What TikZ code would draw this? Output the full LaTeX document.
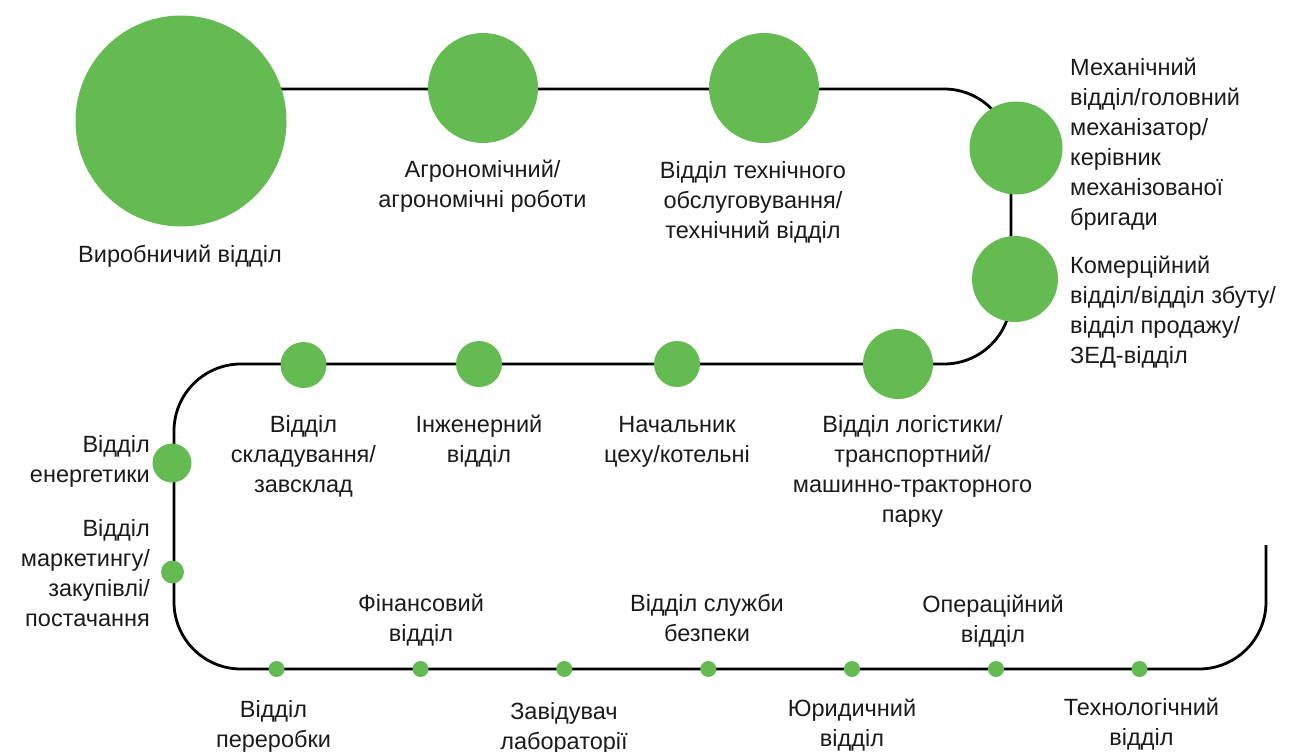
\documentclass[tikz,border=0pt]{standalone}
\usepackage{fontspec}
\setmainfont{Liberation Sans}
\definecolor{dotgreen}{RGB}{99,187,81}
\definecolor{txt}{RGB}{27,27,27}
\pgfdeclarelayer{bg}
\pgfsetlayers{bg,main}
\begin{document}
\begin{tikzpicture}[x=1pt,y=-1pt,
  dot/.style={circle, fill=dotgreen, draw=none, inner sep=0pt, minimum size=#1},
  track/.style={line width=2.8pt, draw=black, rounded corners=67pt},
  lbl/.style={font=\fontsize{23.5}{30}\selectfont, text=txt, inner sep=0pt, align=center, anchor=base},
  lbll/.style={lbl, align=left, anchor=base west},
  lblr/.style={lbl, align=right, anchor=base east}]
\useasboundingbox (0,0) rectangle (1290,752);
% stations
\node[dot=211pt] (prod) at (181,121) {};
\node[dot=110pt] (agro) at (483,88) {};
\node[dot=110pt] (tech) at (764,88) {};
\node[dot=93pt] (mech) at (1016,148) {};
\node[dot=86pt] (comm) at (1015,279) {};
\node[dot=70pt] (logi) at (898,364) {};
\node[dot=46pt] (boil) at (677,364) {};
\node[dot=46pt] (eng) at (479,364) {};
\node[dot=46pt] (stor) at (303.5,365) {};
\node[dot=39pt] (ener) at (172,463) {};
\node[dot=23pt] (mark) at (172.5,572) {};
\node[dot=16pt] (proc) at (276.5,669) {};
\node[dot=16pt] (fin) at (420.5,669) {};
\node[dot=16pt] (lab) at (564.3,669) {};
\node[dot=16pt] (sec) at (708.3,669) {};
\node[dot=16pt] (law) at (852,669) {};
\node[dot=16pt] (ops) at (996,669) {};
\node[dot=16pt] (techn) at (1139.5,669) {};
% track corners
\coordinate (c1) at (1011,89);
\coordinate (c2) at (1011,364);
\coordinate (c3) at (174,364);
\coordinate (c4) at (174,669);
\coordinate (c5) at (1266,669);
\coordinate (c6) at (1266,545);
\begin{pgfonlayer}{bg}
\draw[track] (prod.center |- c1) -- (c1) -- (c2) -- (c3) -- (c4) -- (c5) -- (c6);
\end{pgfonlayer}
% labels (anchor = baseline of the last line)
\node[lbl] (lprod) at (180,262) {Виробничий відділ};
\node[lbl] (lagro) at (482.5,207) {Агрономічний/\\агрономічні роботи};
\node[lbl] (ltech) at (753,238) {Відділ технічного\\обслуговування/\\технічний відділ};
\node[lbll] (lmech) at (1070,225) {Механічний\\відділ/головний\\механізатор/\\керівник\\механізованої\\бригади};
\node[lbll] (lcomm) at (1070,363) {Комерційний\\відділ/відділ збуту/\\відділ продажу/\\ЗЕД-відділ};
\node[lbl] (lstor) at (303.5,492) {Відділ\\складування/\\завсклад};
\node[lbl] (leng) at (479,462) {Інженерний\\відділ};
\node[lbl] (lboil) at (677,462) {Начальник\\цеху/котельні};
\node[lbl] (llogi) at (912.5,522) {Відділ логістики/\\транспортний/\\машинно-тракторного\\парку};
\node[lblr] (lener) at (150,482) {Відділ\\енергетики};
\node[lblr] (lmark) at (150,626) {Відділ\\маркетингу/\\закупівлі/\\постачання};
\node[lbl] (lfin) at (421,641) {Фінансовий\\відділ};
\node[lbl] (lsec) at (707,641) {Відділ служби\\безпеки};
\node[lbl] (lops) at (993,642) {Операційний\\відділ};
\node[lbl] (lproc) at (273.5,747) {Відділ\\переробки};
\node[lbl] (llab) at (564,749) {Завідувач\\лабораторії};
\node[lbl] (llaw) at (852,746) {Юридичний\\відділ};
\node[lbl] (ltechn) at (1141.5,745) {Технологічний\\відділ};
\end{tikzpicture}
\end{document}
